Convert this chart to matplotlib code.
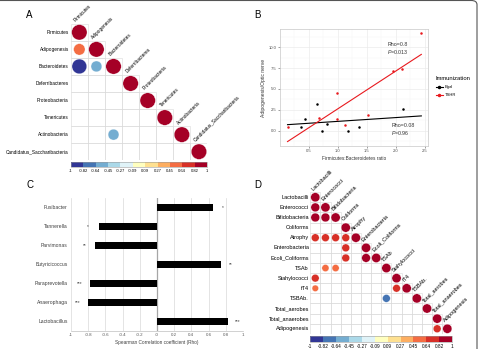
import numpy as np
import matplotlib.pyplot as plt
from matplotlib.colors import ListedColormap, BoundaryNorm
from matplotlib.patches import Circle, Rectangle, FancyBboxPatch
from matplotlib.cm import ScalarMappable
from matplotlib.lines import Line2D

plt.rcParams['font.family'] = ['Liberation Sans', 'DejaVu Sans']
plt.rcParams['mathtext.fontset'] = 'custom'
plt.rcParams['mathtext.it'] = 'Liberation Sans:italic'

W, H = 481, 349

# ---- data ----
# panel A: corrplot (lower triangle, diagonal = 1)
a_names = ['Firmicutes', 'Adipogenesis', 'Bacteroidetes', 'Deferribacteres',
           'Proteobacteria', 'Tenericutes', 'Actinobacteria',
           'Candidatus_Saccharibacteria']
a_rows = [1, 2, 2, 6]
a_cols = [0, 0, 1, 2]
a_rho = [0.55, -0.92, -0.5, -0.5]

# panel B: scatter by immunization group
bgal_x = [0.43, 0.37, 0.64, 0.72, 0.82, 1.17, 1.37, 2.13]
bgal_y = [1.37, 0.44, 3.21, 0.0, 0.77, 0.0, 0.41, 2.57]
tshr_x = [0.13, 0.68, 0.98, 0.98, 1.12, 1.52, 1.95, 2.10, 2.44]
tshr_y = [0.48, 1.56, 4.57, 1.37, 0.69, 1.92, 7.18, 7.38, 11.66]

# panel C: Spearman rho per genus
c_genus = ['Fusibacter', 'Tannerella', 'Parvimonas', 'Butyricicoccus',
           'Paraprevotella', 'Anaerophaga', 'Lactobacillus']
c_rho = [0.65, -0.68, -0.72, 0.74, -0.78, -0.80, 0.82]
c_stars = ['*', '*', '**', '**', '***', '***', '***']

# panel D: corrplot
d_names = ['Lactobacilli', 'Enterococci', 'Bifidobacteria', 'Coliforms',
           'Atrophy', 'Enterobacteria', 'Ecoli_Coliforms', 'TSAb',
           'Stahylococci', 'fT4', 'TSBAb.', 'Total_aerobes',
           'Total_anaerobes', 'Adipogenesis']
d_rows = [1, 2, 2, 4, 4, 4, 4, 5, 6, 6, 7, 7, 8, 9, 9, 10, 13]
d_cols = [0, 0, 1, 0, 1, 2, 3, 3, 3, 5, 1, 2, 0, 0, 8, 7, 12]
d_rho = [0.92, 0.92, 0.92, 0.72, 0.72, 0.72, 0.72, 0.72, 0.72, 0.9,
         0.6, 0.6, 0.7, 0.5, 0.7, -0.72, 0.72]

cb_labels = ['-1', '-0.82', '-0.64', '-0.45', '-0.27', '-0.09',
             '0.09', '0.27', '0.45', '0.64', '0.82', '1']

colors = ['#313695', '#4575b4', '#74add1', '#abd9e9', '#e0f3f8', '#ffffbf',
          '#fee090', '#fdae61', '#f46d43', '#d73027', '#a50026']
bounds = np.linspace(-1, 1, 12)


def rect(x0, y0, x1, y1):
    return [x0 / W, 1 - y1 / H, (x1 - x0) / W, (y1 - y0) / H]


def rho_color(r):
    idx = min(int((r + 1) / 2 * 11), 10)
    return colors[idx]


def corrplot(ax, names, rows, cols, rho, fs):
    n = len(names)
    ax.set_xlim(0, n)
    ax.set_ylim(n, 0)
    ax.axis('off')
    for i in range(n):
        for j in range(i + 1):
            ax.add_patch(Rectangle((j, i), 1, 1, fill=False, ec='#d9d9d9', lw=0.4))
    entries = [(i, i, 1.0) for i in range(n)] + list(zip(rows, cols, rho))
    for i, j, r in entries:
        ax.add_patch(Circle((j + 0.5, i + 0.5), 0.45 * np.sqrt(abs(r)),
                            fc=rho_color(r), ec='white', lw=0.2))
    for i, name in enumerate(names):
        ax.text(-0.12, i + 0.5, name, ha='right', va='center', fontsize=fs)
        ax.text(i + 0.35, i - 0.05, name, ha='left', va='bottom', fontsize=fs,
                rotation=45, rotation_mode='anchor', clip_on=False)


def colorbar(fig, r, fs):
    cax = fig.add_axes(r)
    sm = ScalarMappable(norm=BoundaryNorm(bounds, 11), cmap=ListedColormap(colors))
    cb = fig.colorbar(sm, cax=cax, orientation='horizontal', ticks=bounds)
    cb.set_ticklabels(cb_labels)
    cax.tick_params(length=0, labelsize=fs, pad=1.5)
    cb.outline.set_edgecolor('#9a9a9a')
    cb.outline.set_linewidth(0.4)


fig = plt.figure(figsize=(W / 100, H / 100), dpi=100)

# ---- A ----
axA = fig.add_axes(rect(70.8, 23.8, 207.5, 160.2))
corrplot(axA, a_names, a_rows, a_cols, a_rho, 3.4)
colorbar(fig, rect(71, 162, 207, 167), 3.0)

# ---- B ----
axB = fig.add_axes(rect(280, 29, 428, 146))
axB.set_xlim(0.0, 2.555)
axB.set_ylim(-1.84, 12.2)
axB.set_xticks([0.5, 1.0, 1.5, 2.0, 2.5])
axB.set_yticks([0.0, 2.5, 5.0, 7.5, 10.0])
axB.set_xticks(np.arange(0.25, 2.6, 0.5), minor=True)
axB.set_yticks(np.arange(-1.25, 12.2, 2.5), minor=True)
axB.grid(True, which='major', color='#ebebeb', lw=0.5)
axB.grid(True, which='minor', color='#f4f4f4', lw=0.35)
axB.set_axisbelow(True)
for s in axB.spines.values():
    s.set_edgecolor('#c8c8c8')
    s.set_linewidth(0.5)
axB.tick_params(which='major', length=1.5, width=0.4, color='#555555',
                labelsize=3.0, labelcolor='#4d4d4d', pad=1)
axB.tick_params(which='minor', length=0)
axB.set_xticklabels(['0.5', '1.0', '1.5', '2.0', '2.5'])
axB.set_yticklabels(['0.0', '2.5', '5.0', '7.5', '10.0'])

xall = np.array(bgal_x + tshr_x)
xs = np.array([xall.min(), xall.max()])
for gx, gy, col, lab in [(bgal_x, bgal_y, 'black', 'Bgal'),
                         (tshr_x, tshr_y, '#e8191e', 'TSHR')]:
    k, b = np.polyfit(gx, gy, 1)
    axB.plot(xs, k * xs + b, color=col, lw=0.8)
    axB.plot(gx, gy, 'o', color=col, ms=1.8, mec='none')
axB.text(1.85, 9.8, 'Rho=0.8\n$\\it{P}$=0.013', ha='left', va='center',
         fontsize=3.8, color='#333333', linespacing=1.1)
axB.text(1.92, 0.08, 'Rho=0.08\n$\\it{P}$=0.96', ha='left', va='center',
         fontsize=3.8, color='#333333', linespacing=1.1)
axB.set_xlabel('Firmicutes:Bacteroidetes ratio', fontsize=3.4, color='#333333', labelpad=2)
axB.set_ylabel('Adipogenesis/Optic nerve', fontsize=3.6, color='#333333', labelpad=2)

handles = [Line2D([], [], color='black', lw=0.8, marker='o', ms=1.5),
           Line2D([], [], color='#e8191e', lw=0.8, marker='o', ms=1.5)]
leg = fig.legend(handles, ['Bgal', 'TSHR'], title='Immunization', loc='upper left',
                 bbox_to_anchor=(433 / W, 1 - 73 / H), frameon=False, fontsize=3.0,
                 title_fontsize=4.2, handlelength=1.6, handletextpad=0.6,
                 labelspacing=1.0, alignment='left', borderpad=0.2)

# ---- C ----
axC = fig.add_axes(rect(71, 197.7, 243, 330.7))
n = len(c_genus)
ypos = np.arange(n)[::-1]
axC.barh(ypos, c_rho, height=0.35, color='black', zorder=3)
for y, v, s in zip(ypos, c_rho, c_stars):
    axC.text(v + np.sign(v) * 0.12, y, s, ha='center', va='center',
             fontsize=3.4, color='#404040')
axC.set_xlim(-1, 1)
axC.set_ylim(-0.5, 6.5)
xt = np.round(np.arange(-1, 1.01, 0.2), 1)
axC.set_xticks(xt)
axC.set_xticklabels([('%g' % v) for v in xt])
axC.set_yticks(ypos)
axC.set_yticklabels(c_genus)
axC.grid(True, axis='x', color='#d9d9d9', lw=0.5, zorder=0)
axC.set_axisbelow(True)
for side in ['left', 'top', 'right']:
    axC.spines[side].set_visible(False)
axC.spines['bottom'].set_edgecolor('#bfbfbf')
axC.spines['bottom'].set_linewidth(0.5)
axC.axvline(0, color='#a6a6a6', lw=0.9, zorder=2)
axC.tick_params(axis='x', length=0, labelsize=3.2, labelcolor='#595959', pad=2)
axC.tick_params(axis='y', length=0, labelsize=3.6, labelcolor='#404040', pad=2.5)
axC.set_xlabel('Spearman Correlation coefficient (Rho)', fontsize=3.4,
               color='#404040', labelpad=2)

# ---- D ----
axD = fig.add_axes(rect(310.2, 192.2, 452.4, 333.8))
corrplot(axD, d_names, d_rows, d_cols, d_rho, 4.0)
colorbar(fig, rect(310, 336.3, 452.3, 341.7), 3.4)

# panel letters
for lab, x, y in [('A', 29, 15), ('B', 257, 15), ('C', 30, 185), ('D', 258, 185)]:
    fig.text(x / W, 1 - y / H, lab, ha='center', va='center', fontsize=7)

# outer frame (only top and right edges visible)
fig.patches.append(FancyBboxPatch((-20 / W, -20 / H), 497 / W, (H + 19.5) / H,
                                  boxstyle='round,pad=0,rounding_size=0.012',
                                  transform=fig.transFigure, fill=False,
                                  ec='#555555', lw=0.8))

fig.savefig('out.png', dpi=100)
